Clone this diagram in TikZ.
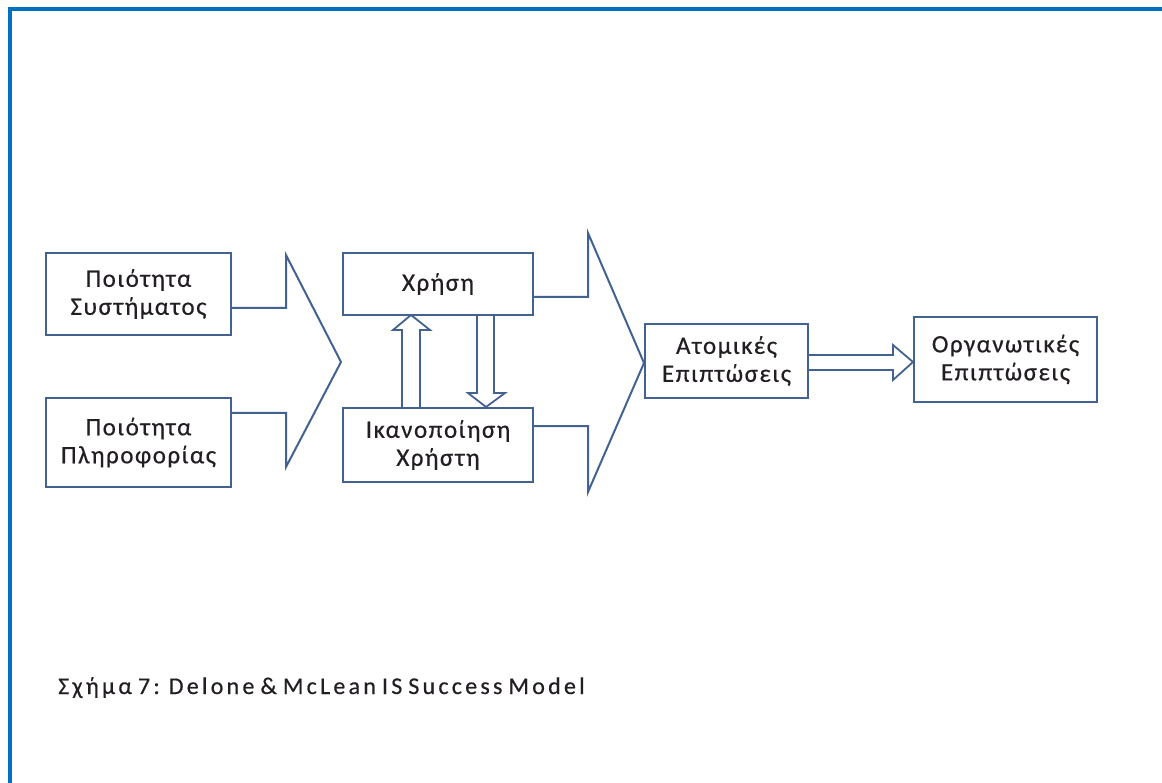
\documentclass[tikz,border=0pt]{standalone}
\usepackage{fontspec}
\setmainfont{Carlito}
\newfontfamily\boxfont[LetterSpace=6,FakeBold=0.5]{Carlito}
\newfontfamily\capfont[LetterSpace=13.5,WordSpace=0.7,FakeBold=0.5]{Carlito}
\usetikzlibrary{calc}
\definecolor{framecol}{RGB}{0,112,192}
\definecolor{edgecol}{RGB}{66,98,145}
\definecolor{txtcol}{RGB}{35,30,35}
\begin{document}
\begin{tikzpicture}[x=1pt,y=-1pt,
  box/.style={draw=edgecol,line width=2pt,fill=white,inner sep=0pt,
    align=center,text=txtcol,
    font=\boxfont\fontsize{25}{28}\selectfont},
  flow/.style={draw=edgecol,line width=2pt,line join=miter}]
\useasboundingbox (0,0) rectangle (1162,783);
% outer frame (only top and left edges fall inside the page)
\draw[framecol,line width=4pt] (10,790) -- (10,9) -- (1170,9);

% boxes
\node[box,minimum width=185pt,minimum height=82pt] (sq) at (138.5,294) {Ποιότητα\\Συστήματος};
\node[box,minimum width=185pt,minimum height=89pt] (iq) at (138.5,442.5) {Ποιότητα\\Πληροφορίας};
\node[box,minimum width=190pt,minimum height=62pt] (use) at (438,284) {Χρήση};
\node[box,minimum width=190pt,minimum height=74pt] (us) at (438,445) {Ικανοποίηση\\Χρήστη};
\node[box,minimum width=163pt,minimum height=74pt] (ii) at (726.5,361) {Ατομικές\\Επιπτώσεις};
\node[box,minimum width=183pt,minimum height=85pt] (oi) at (1005.5,359.5) {Οργανωτικές\\Επιπτώσεις};

% merging arrow: system and information quality
\draw[flow] (sq.east |- 0,308) -- (286,308) -- (286,255) -- (341,362)
  -- (286,467) -- (286,413) -- (iq.east |- 0,413);
% merging arrow: use and user satisfaction
\draw[flow] (use.east |- 0,297) -- (588,297) -- (588,233) -- (644,363)
  -- (588,492) -- (588,426) -- (us.east |- 0,426);

% hollow arrows
\draw[flow,line width=1.8pt] (us.north -| 402,0) -- (402,330) -- (393,330) -- (411,315)
  -- (430,330) -- (420,330) -- (us.north -| 420,0);
\draw[flow,line width=1.8pt] (use.south -| 477,0) -- (477,393) -- (468,393) -- (486,407)
  -- (505,393) -- (494,393) -- (use.south -| 494,0);
\draw[flow,line width=1.8pt] (ii.east |- 0,355) -- (893,355) -- (893,345) -- (oi.west |- 0,362)
  -- (893,380) -- (893,370) -- (ii.east |- 0,370);

% caption
\node[anchor=base west,inner sep=0pt,text=txtcol,
  font=\capfont\fontsize{24}{27}\selectfont] (cap) at (58,694)
  {Σχήμα 7: Delone \& McLean IS Success Model};
\end{tikzpicture}
\end{document}
